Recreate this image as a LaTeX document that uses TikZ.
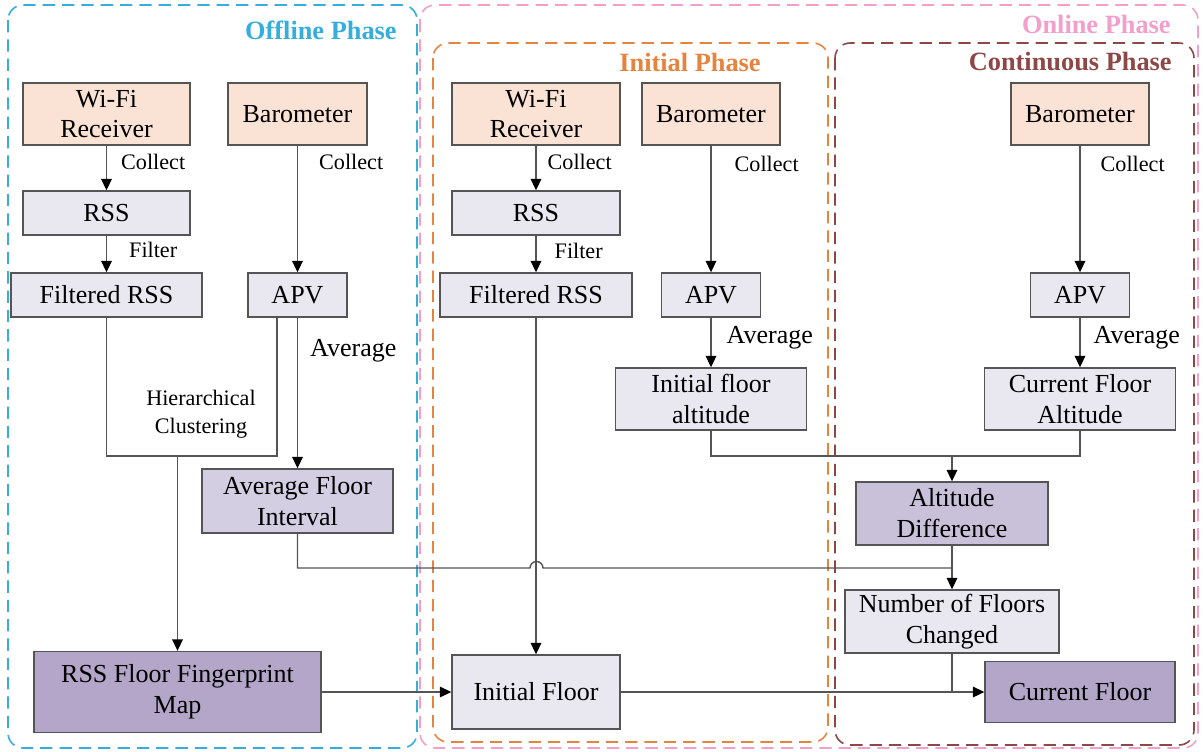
\documentclass[tikz,border=0pt]{standalone}
\usepackage{fontspec}
\setmainfont{Liberation Serif}
\usepackage{xcolor}
\usepackage{tikz}
\usetikzlibrary{arrows.meta,positioning}
\definecolor{offblue}{HTML}{36AEDB}
\definecolor{onpink}{HTML}{F29FCB}
\definecolor{iniorange}{HTML}{E5843F}
\definecolor{conbrown}{HTML}{8E4747}
\definecolor{peachfill}{HTML}{FAE2D5}
\definecolor{lightfill}{HTML}{E9E7EF}
\definecolor{midfill}{HTML}{D3CEE1}
\definecolor{difffill}{HTML}{C9C0DA}
\definecolor{darkfill}{HTML}{B3A6C8}
\definecolor{boxline}{HTML}{555555}
\definecolor{linegray}{HTML}{555555}

\begin{document}
\begin{tikzpicture}[x=0.02cm,y=-0.02cm,every node/.style={align=center},
    box/.style={draw=boxline,line width=0.8pt,inner sep=0pt,font=\fontsize{14.8}{17.6}\selectfont},
    peach/.style={box,fill=peachfill},
    light/.style={box,fill=lightfill},
    arr/.style={draw=linegray,line width=0.8pt,-{Triangle[length=6.5pt,width=6pt,color=black]}},
    wire/.style={draw=linegray,line width=0.8pt},
    lbl/.style={inner sep=0pt,anchor=west,font=\fontsize{12.6}{16}\selectfont},
    biglbl/.style={inner sep=0pt,anchor=west,font=\fontsize{14.8}{17.6}\selectfont},
    frame/.style={dash pattern=on 7pt off 4pt,line width=0.9pt,rounded corners=0.3cm},
    phase/.style={inner sep=0pt,font=\fontsize{15}{18}\selectfont\bfseries}]
  \useasboundingbox (0,0) rectangle (1203,751);

  % phase frames
  \draw[frame,offblue] (8,5) rectangle (417,748);
  \draw[frame,onpink] (420,5) rectangle (1198,748);
  \draw[frame,iniorange] (433,43) rectangle (828,742);
  \draw[frame,conbrown] (835,43) rectangle (1194,745);
  \node[phase,offblue,anchor=east] (offtitle) at (397,30) {Offline Phase};
  \node[phase,onpink,anchor=east] (ontitle) at (1171,24) {Online Phase};
  \node[phase,iniorange] (inititle) at (690,62) {Initial Phase};
  \node[phase,conbrown,anchor=east] (contitle) at (1172,62) {Continuous Phase};

  % offline phase
  \node[peach,minimum width=3.34cm,minimum height=1.24cm] (wifiA) at (106.5,114) {Wi-Fi\\Receiver};
  \node[peach,minimum width=2.78cm,minimum height=1.24cm] (baroA) at (297.5,114) {Barometer};
  \node[light,minimum width=3.34cm,minimum height=0.88cm] (rssA) at (106.5,213) {RSS};
  \node[light,minimum width=3.82cm,minimum height=0.88cm] (filtA) at (106.5,295) {Filtered RSS};
  \node[light,minimum width=1.98cm,minimum height=0.88cm] (apvA) at (297.5,295) {APV};
  \node[box,fill=midfill,minimum width=3.82cm,minimum height=1.28cm] (avgint) at (297.5,501) {Average Floor\\Interval};
  \node[box,fill=darkfill,minimum width=5.74cm,minimum height=1.62cm] (fpmap) at (177.5,692) {RSS Floor Fingerprint\\Map};
  \coordinate (clusjoin) at (177.5,456);

  \draw[arr] (wifiA) -- node[lbl,pos=0.37,right=0.28cm] {Collect} (rssA);
  \draw[arr] (baroA) -- node[lbl,pos=0.13,right=0.42cm] {Collect} (apvA);
  \draw[arr] (rssA) -- node[lbl,pos=0.4,right=0.44cm] {Filter} (filtA);
  \draw[arr] (apvA) -- node[biglbl,pos=0.22,right=0.24cm] {Average} (avgint);
  \draw[wire] (filtA.south) |- (clusjoin) -| ([xshift=-0.41cm]apvA.south);
  \draw[arr] (clusjoin) -- (fpmap.north);
  \node[lbl,anchor=center] (hclabel) at (201,414) {Hierarchical\\Clustering};

  % initial phase
  \node[peach,minimum width=3.36cm,minimum height=1.24cm] (wifiB) at (536,114) {Wi-Fi\\Receiver};
  \node[peach,minimum width=2.76cm,minimum height=1.24cm] (baroB) at (711,114) {Barometer};
  \node[light,minimum width=3.36cm,minimum height=0.88cm] (rssB) at (536,213) {RSS};
  \node[light,minimum width=3.84cm,minimum height=0.88cm] (filtB) at (536,295) {Filtered RSS};
  \node[light,minimum width=1.98cm,minimum height=0.88cm] (apvB) at (711,295) {APV};
  \node[light,minimum width=3.82cm,minimum height=1.24cm] (initalt) at (711,399) {Initial floor\\altitude};
  \node[light,minimum width=3.36cm,minimum height=1.48cm] (initfloor) at (536,692) {Initial Floor};

  \draw[arr] (wifiB) -- node[lbl,pos=0.37,right=0.22cm] {Collect} (rssB);
  \draw[arr] (baroB) -- node[lbl,pos=0.14,right=0.46cm] {Collect} (apvB);
  \draw[arr] (rssB) -- node[lbl,pos=0.42,right=0.36cm] {Filter} (filtB);
  \draw[arr] (apvB) -- node[biglbl,pos=0.41,right=0.3cm] {Average} (initalt);
  \draw[arr] (filtB) -- (initfloor);
  \draw[arr] (fpmap.east) -- (initfloor.west);

  % continuous phase
  \node[peach,minimum width=2.76cm,minimum height=1.24cm] (baroC) at (1080,114) {Barometer};
  \node[light,minimum width=1.98cm,minimum height=0.88cm] (apvC) at (1080,295) {APV};
  \node[light,minimum width=3.82cm,minimum height=1.24cm] (curalt) at (1080,399) {Current Floor\\Altitude};
  \node[box,fill=difffill,minimum width=3.84cm,minimum height=1.26cm] (altdiff) at (952,513.5) {Altitude\\Difference};
  \node[light,minimum width=4.28cm,minimum height=1.26cm] (numfl) at (952,621.5) {Number of Floors\\Changed};
  \node[box,fill=darkfill,minimum width=3.8cm,minimum height=1.22cm] (curfloor) at (1080,692) {Current Floor};
  \coordinate (altjoin) at (952,456);
  \coordinate (hopL) at (530,568);

  \draw[arr] (baroC) -- node[lbl,pos=0.14,right=0.4cm] {Collect} (apvC);
  \draw[arr] (apvC) -- node[biglbl,pos=0.41,right=0.26cm] {Average} (curalt);
  \draw[wire] (initalt.south) |- (altjoin) -| (curalt.south);
  \draw[arr] (altjoin) -- (altdiff.north);
  \draw[wire] (avgint.south) |- (hopL) arc[start angle=180,end angle=0,radius=0.13cm] -- (altdiff.south |- hopL);
  \draw[arr] (altdiff) -- (numfl);
  \draw[arr] (initfloor.east) -- (curfloor.west);
  \draw[wire] (numfl.south) -- (numfl.south |- curfloor.west);
\end{tikzpicture}
\end{document}
